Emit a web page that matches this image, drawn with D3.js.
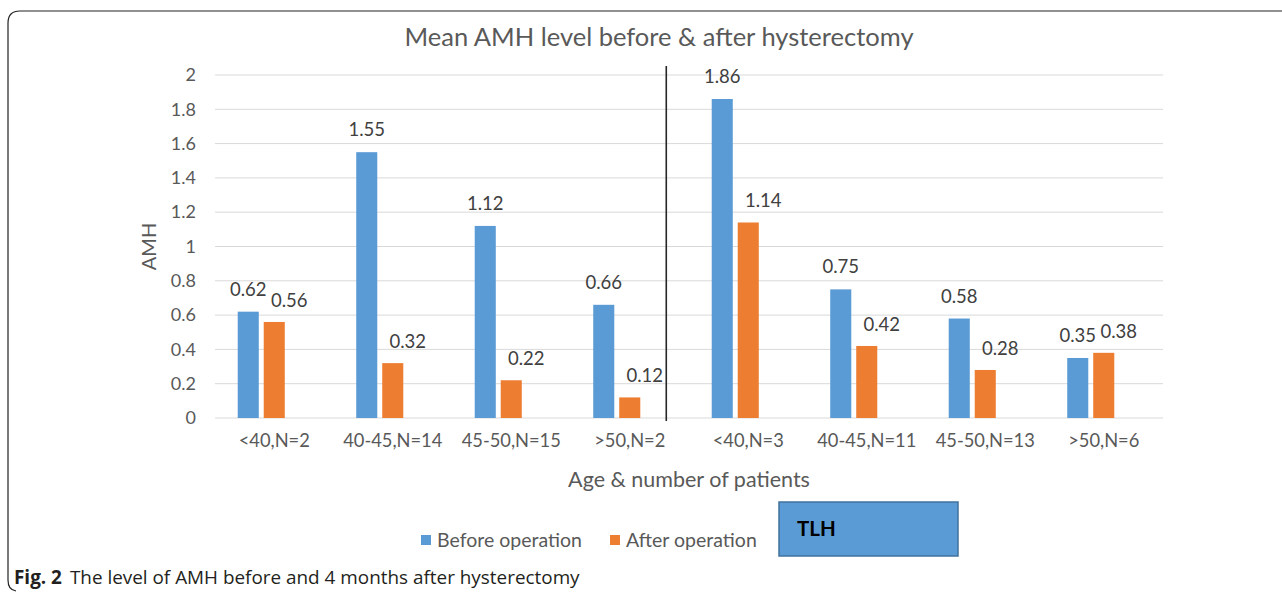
<!DOCTYPE html>
<html>
<head>
<meta charset="utf-8">
<script src="https://cdn.jsdelivr.net/npm/d3@7"></script>
<style>
  body { margin: 0; background: #fff; }
  svg text { font-family: Lato, "Open Sans", sans-serif; }
</style>
</head>
<body>
<div id="chart"></div>
<script>
// categories and values
var categories = ["<40,N=2", "40-45,N=14", "45-50,N=15", ">50,N=2",
                  "<40,N=3", "40-45,N=11", "45-50,N=13", ">50,N=6"];
var before = [0.62, 1.55, 1.12, 0.66, 1.86, 0.75, 0.58, 0.35];
var after = [0.56, 0.32, 0.22, 0.12, 1.14, 0.42, 0.28, 0.38];
var yTicks = [0, 0.2, 0.4, 0.6, 0.8, 1, 1.2, 1.4, 1.6, 1.8, 2];
var seriesNames = ["Before operation", "After operation"];

var width = 1282, height = 594;
var margin = {top: 75, right: 119, bottom: 176, left: 215};
var blue = "#5b9bd5", orange = "#ed7d31";

var svg = d3.select("#chart")
  .append("svg")
  .attr("width", width)
  .attr("height", height);

// frame around the figure (top and left sides like the cropped original)
svg.append("path")
  .attr("d", "M1282,11 L20,11 Q8,11 8,23 L8,580 Q8,590 16,591")
  .attr("fill", "none")
  .attr("stroke", "#222")
  .attr("stroke-width", 1.2);

var x0 = d3.scaleBand()
  .domain(categories)
  .range([margin.left, width - margin.right]);

// three slots per category in the original, third one is empty
var x1 = d3.scaleBand()
  .domain([0, 1, 2])
  .range([0, x0.bandwidth()])
  .paddingInner(0.19)
  .paddingOuter(0.874);

var y = d3.scaleLinear()
  .domain([0, 2])
  .range([height - margin.bottom, margin.top]);

// gridlines
svg.append("g")
  .selectAll("line")
  .data(yTicks)
  .enter()
  .append("line")
  .attr("x1", margin.left)
  .attr("x2", width - margin.right)
  .attr("y1", d => y(d))
  .attr("y2", d => y(d))
  .attr("stroke", "#d9d9d9")
  .attr("stroke-width", 1);

// y axis labels
var yAxis = svg.append("g")
  .attr("transform", "translate(" + (margin.left - 9) + ",0)")
  .call(d3.axisLeft(y).tickValues(yTicks).tickSize(0).tickPadding(10).tickFormat(d3.format("~g")));
yAxis.select(".domain").remove();
yAxis.selectAll("text")
  .attr("fill", "#595959")
  .style("font-size", "18px");

// x axis labels
var xAxis = svg.append("g")
  .attr("transform", "translate(0," + y(0) + ")")
  .call(d3.axisBottom(x0).tickSize(0).tickPadding(16));
xAxis.select(".domain").remove();
xAxis.selectAll("text")
  .attr("fill", "#595959")
  .style("font-size", "18.3px");

var groups = svg.append("g")
  .selectAll("g")
  .data(categories)
  .enter()
  .append("g")
  .attr("transform", d => "translate(" + x0(d) + ",0)");

groups.append("rect")
  .attr("x", x1(0))
  .attr("width", x1.bandwidth())
  .attr("y", (d, i) => y(before[i]))
  .attr("height", (d, i) => y(0) - y(before[i]))
  .attr("fill", blue);

groups.append("rect")
  .attr("x", x1(1))
  .attr("width", x1.bandwidth())
  .attr("y", (d, i) => y(after[i]))
  .attr("height", (d, i) => y(0) - y(after[i]))
  .attr("fill", orange);

// data labels
groups.append("text")
  .attr("x", x1(0) + x1.bandwidth() / 2)
  .attr("y", (d, i) => y(before[i]) - 16)
  .attr("text-anchor", "middle")
  .attr("fill", "#404040")
  .style("font-size", "18.5px")
  .text((d, i) => before[i]);

groups.append("text")
  .attr("x", x1(1) + x1.bandwidth() / 2 + x1.step() / 2 + 2)
  .attr("y", (d, i) => y(after[i]) - 15)
  .attr("text-anchor", "middle")
  .attr("fill", "#404040")
  .style("font-size", "18.5px")
  .text((d, i) => after[i]);

// divider between the two groups of four
var divX = x0(categories[3]) + x1(2) + x1.bandwidth();
svg.append("line")
  .attr("x1", divX).attr("x2", divX)
  .attr("y1", y(2) - 9).attr("y2", y(0) + 3)
  .attr("stroke", "#262626")
  .attr("stroke-width", 1.6);

// title
svg.append("text")
  .attr("x", 659)
  .attr("y", 46)
  .attr("text-anchor", "middle")
  .attr("fill", "#595959")
  .style("font-size", "25.5px")
  .text("Mean AMH level before & after hysterectomy");

// axis titles
svg.append("text")
  .attr("transform", "translate(156," + y(1) + ") rotate(-90)")
  .attr("text-anchor", "middle")
  .attr("fill", "#595959")
  .style("font-size", "20px")
  .text("AMH");

svg.append("text")
  .attr("x", 689)
  .attr("y", 487)
  .attr("text-anchor", "middle")
  .attr("fill", "#595959")
  .style("font-size", "21.5px")
  .text("Age & number of patients");

// legend
var legend = svg.append("g");
var legendX = [421, 610];
var legendColors = [blue, orange];
seriesNames.forEach(function(name, i) {
  legend.append("rect")
    .attr("x", legendX[i]).attr("y", 535)
    .attr("width", 10).attr("height", 10)
    .attr("fill", legendColors[i]);
  legend.append("text")
    .attr("x", legendX[i] + 16).attr("y", 547)
    .attr("fill", "#595959")
    .style("font-size", "19.5px")
    .text(name);
});

// TLH box
svg.append("rect")
  .attr("x", 779).attr("y", 502)
  .attr("width", 179).attr("height", 54)
  .attr("fill", blue)
  .attr("stroke", "#41719c")
  .attr("stroke-width", 1.5);
svg.append("text")
  .attr("x", 797).attr("y", 536)
  .attr("fill", "#000")
  .style("font-size", "20.5px")
  .style("font-weight", "bold")
  .text("TLH");

// caption
var cap = svg.append("text")
  .attr("x", 14).attr("y", 584)
  .attr("fill", "#231f20")
  .style("font-family", "'Open Sans', sans-serif")
  .style("font-size", "18.9px");
cap.append("tspan").style("font-weight", "bold").text("Fig. 2");
cap.append("tspan").attr("dx", 8).text("The level of AMH before and 4 months after hysterectomy");
</script>
</body>
</html>
